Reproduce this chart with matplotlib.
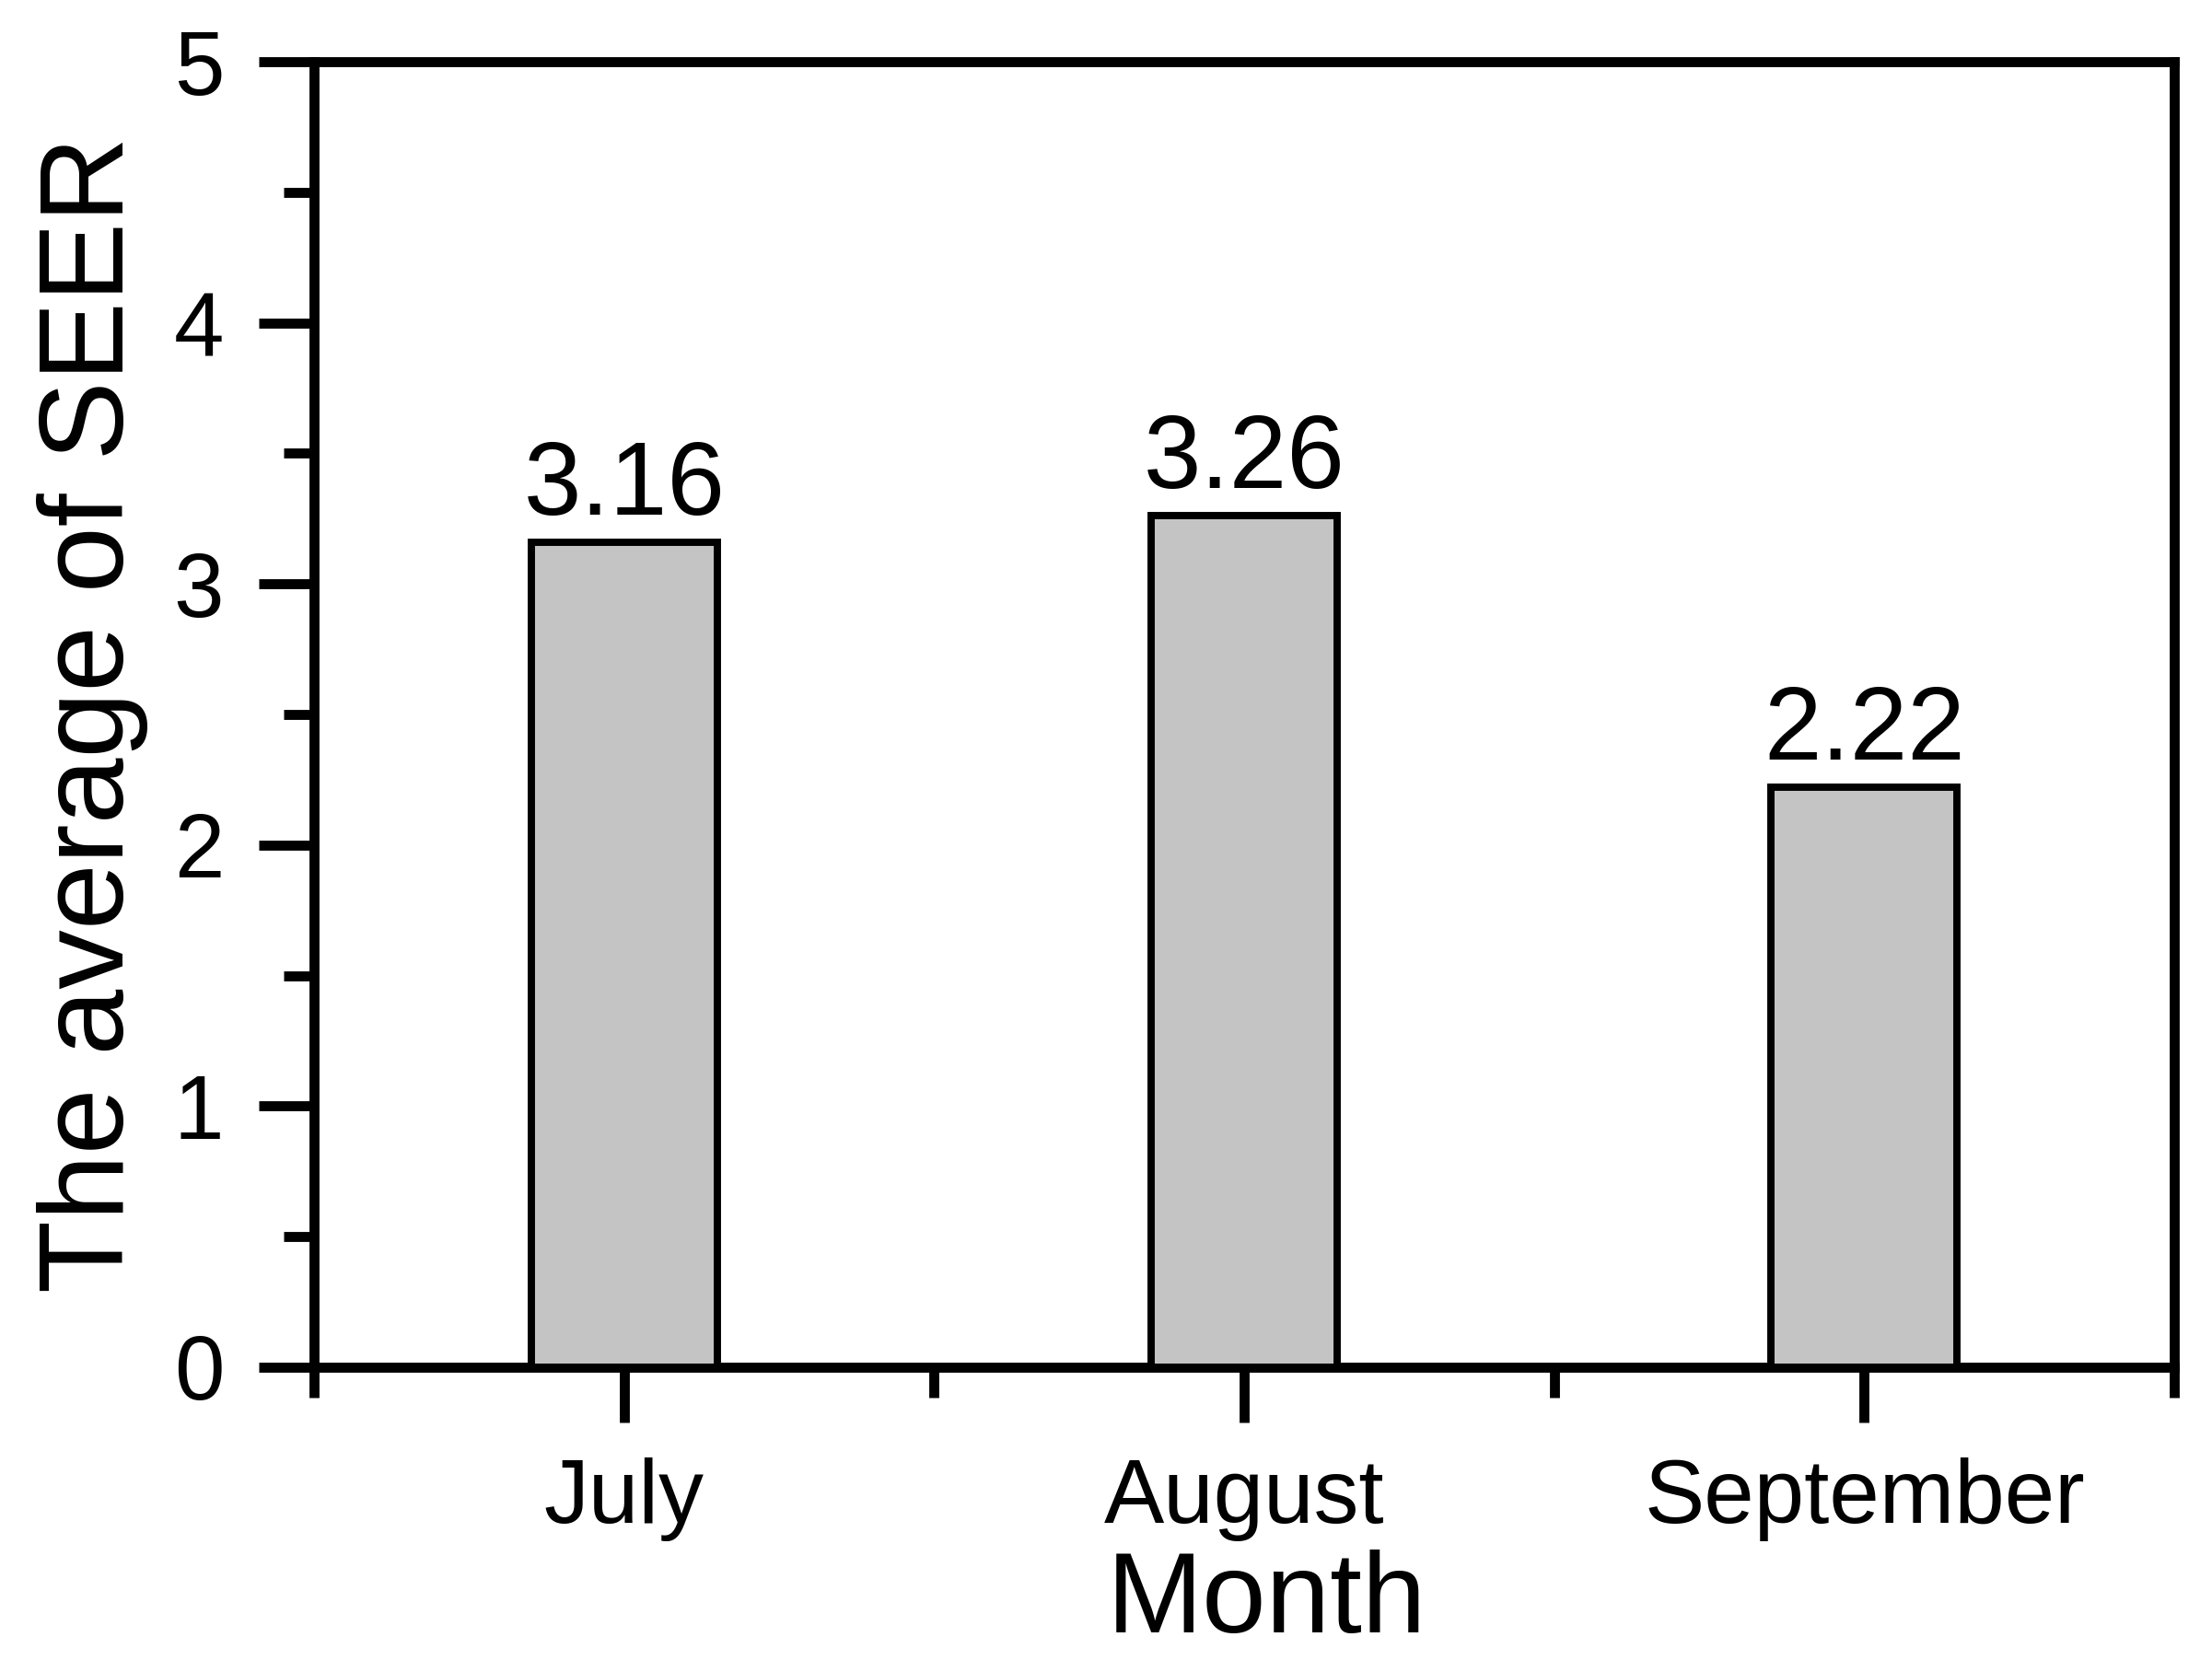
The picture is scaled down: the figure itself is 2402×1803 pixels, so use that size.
import matplotlib
matplotlib.use('Agg')
import matplotlib.pyplot as plt
from matplotlib.ticker import FixedLocator, MultipleLocator

months = ['July', 'August', 'September']
seer_avg = [3.16, 3.26, 2.22]

plt.rcParams['font.family'] = ['Liberation Sans', 'DejaVu Sans']

fig = plt.figure(figsize=(2402 / 300, 1803 / 300), dpi=300)
ax = fig.add_axes([0.142, 0.1764, 0.841, 0.7864])

xpos = list(range(len(months)))
bars = ax.bar(xpos, seer_avg, width=0.3, color='#c4c4c4', edgecolor='black',
              linewidth=1.9, zorder=3)
ax.bar_label(bars, labels=['%.2f' % v for v in seer_avg], padding=1.5, fontsize=27)

ax.set_xlim(-0.5, 2.5)
ax.set_ylim(0, 5)
ax.set_xticks(xpos)
ax.set_xticklabels(months)
ax.xaxis.set_minor_locator(FixedLocator([-0.5, 0.5, 1.5, 2.5]))
ax.set_yticks([0, 1, 2, 3, 4, 5])
ax.yaxis.set_minor_locator(MultipleLocator(0.5))

for sp in ax.spines.values():
    sp.set_linewidth(2.6)

ax.tick_params(which='major', direction='out', length=14.5, width=2.6,
               labelsize=23.5, pad=9)
ax.tick_params(which='minor', direction='out', length=8, width=2.6)

ax.set_ylabel('The average of SEER', fontsize=31)
ax.yaxis.set_label_coords(-0.089, 0.5)
ax.set_xlabel('Month', fontsize=30)
ax.xaxis.set_label_coords(0.512, -0.14)

fig.savefig('out.png', dpi=300)
